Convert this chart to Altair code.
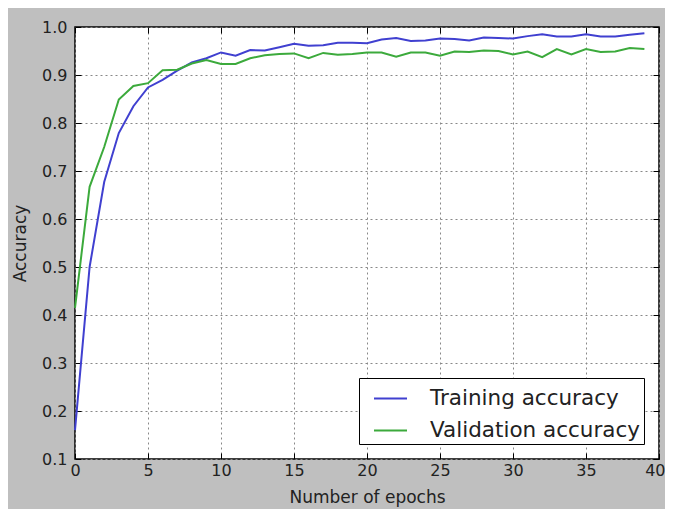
import altair as alt
import pandas as pd

epochs = list(range(40))
training_acc = [0.16, 0.50, 0.677, 0.779, 0.835, 0.874, 0.89, 0.909, 0.926, 0.935,
                0.947, 0.94, 0.952, 0.951, 0.958, 0.965, 0.961, 0.962, 0.967, 0.967,
                0.966, 0.974, 0.977, 0.971, 0.972, 0.976, 0.975, 0.972, 0.978, 0.977,
                0.976, 0.981, 0.985, 0.98, 0.98, 0.985, 0.98, 0.98, 0.984, 0.987]
validation_acc = [0.415, 0.667, 0.75, 0.849, 0.877, 0.883, 0.91, 0.911, 0.924, 0.931,
                  0.923, 0.923, 0.935, 0.941, 0.944, 0.945, 0.935, 0.946, 0.942, 0.944,
                  0.947, 0.947, 0.938, 0.947, 0.947, 0.94, 0.949, 0.948, 0.951, 0.95,
                  0.943, 0.949, 0.937, 0.954, 0.943, 0.954, 0.948, 0.949, 0.956, 0.954]
series_names = ["Training accuracy", "Validation accuracy"]
series_colors = ["#4040d0", "#3caa3c"]
x_ticks = [0, 5, 10, 15, 20, 25, 30, 35, 40]
y_ticks = [0.1, 0.2, 0.3, 0.4, 0.5, 0.6, 0.7, 0.8, 0.9, 1.0]

df = pd.DataFrame({
    "epoch": epochs * 2,
    "acc": training_acc + validation_acc,
    "series": [series_names[0]] * len(epochs) + [series_names[1]] * len(epochs),
})

FONT = "DejaVu Sans"
TXT = "#222222"

xscale = alt.Scale(domain=[0, 40], nice=False, zero=False)
yscale = alt.Scale(domain=[0.1, 1.0], nice=False, zero=False)

main = alt.Chart(df).mark_line(strokeWidth=2).encode(
    x=alt.X("epoch:Q", scale=xscale,
            axis=alt.Axis(title="Number of epochs", values=x_ticks, format="d",
                          orient="bottom", offset=-6, tickSize=6, tickColor="#000",
                          domain=False, labelPadding=3, labelFontSize=16,
                          labelAlign={"condition": {"test": "datum.value == 40", "value": "right"},
                                      "value": "center"},
                          labelOffset={"condition": {"test": "datum.value == 40", "value": 6},
                                       "value": 0},
                          labelFont=FONT, labelColor=TXT, titleFont=FONT,
                          titleFontSize=17, titleFontWeight="normal", titleColor=TXT,
                          titleY=44, titleBaseline="middle",
                          grid=True, gridColor="#888888", gridDash=[2, 3],
                          gridWidth=1, labelFlush=False)),
    y=alt.Y("acc:Q", scale=yscale,
            axis=alt.Axis(title="Accuracy", values=y_ticks, format=".1f",
                          orient="left", offset=-6, tickSize=6, tickColor="#000",
                          domain=False, labelPadding=8, labelFontSize=16,
                          labelFont=FONT, labelColor=TXT, titleFont=FONT,
                          titleFontSize=17, titleFontWeight="normal", titleColor=TXT,
                          titleX=-61, titleBaseline="middle",
                          grid=True, gridColor="#888888", gridDash=[2, 3],
                          gridWidth=1, labelFlush=False)),
    color=alt.Color("series:N",
                    scale=alt.Scale(domain=series_names, range=series_colors),
                    legend=alt.Legend(title=None, orient="none", legendX=284, legendY=351,
                                      symbolType="stroke", symbolSize=1089,
                                      symbolStrokeWidth=2, symbolOffset=11,
                                      labelFontSize=21.5,
                                      labelFont=FONT, labelColor=TXT, labelLimit=400,
                                      labelExpr="datum.label + '\u00a0\u00a0'",
                                      labelOffset=22, rowPadding=4, padding=3,
                                      strokeColor="#000000", fillColor="#ffffff",
                                      cornerRadius=0, offset=0)),
)

ghost = alt.Chart(df).mark_line(opacity=0).encode(
    x=alt.X("epoch:Q", scale=xscale,
            axis=alt.Axis(title=None, values=x_ticks, orient="top", offset=-6,
                          tickSize=6, tickColor="#000", domain=False, labels=False,
                          grid=False)),
    y=alt.Y("acc:Q", scale=yscale,
            axis=alt.Axis(title=None, values=y_ticks, orient="right", offset=-6,
                          tickSize=6, tickColor="#000", domain=False, labels=False,
                          grid=False)),
    detail="series:N",
)

chart = alt.layer(main, ghost).resolve_axis(x="independent", y="independent").properties(
    width=584, height=432,
    autosize=alt.AutoSizeParams(type="none"),
    padding={"left": 67, "top": 19, "right": 6, "bottom": 50},
    background="#bfbfbf",
).configure_view(stroke="#000000", strokeWidth=1.5, fill="#ffffff")

chart.save("out.html", embed_options={"renderer": "svg", "actions": False})
